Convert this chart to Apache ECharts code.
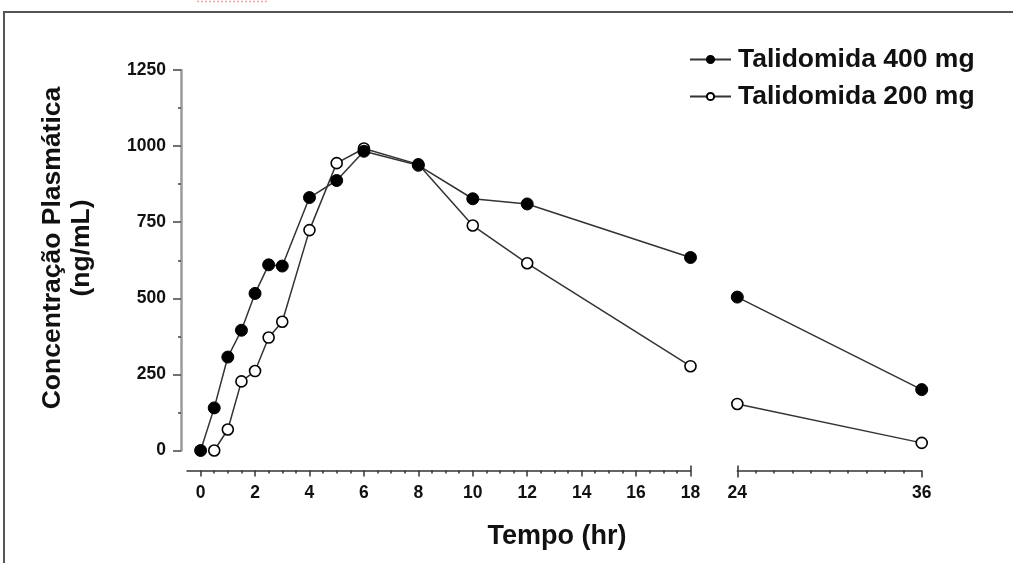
<!DOCTYPE html>
<html>
<head>
<meta charset="utf-8">
<script src="https://cdn.jsdelivr.net/npm/echarts@6/dist/echarts.min.js"></script>
<style>
  html, body { margin: 0; padding: 0; background: #fff; }
  #chart { width: 1013px; height: 563px; }
</style>
</head>
<body>
<div id="chart"></div>
<script>
// Sampling times (hr) and mean plasma concentrations (ng/mL)
var times = [0, 0.5, 1, 1.5, 2, 2.5, 3, 4, 5, 6, 8, 10, 12, 18, 24, 36];
var dose400 = [0, 140, 307, 395, 516, 610, 606, 831, 887, 983, 937, 827, 810, 634, 504, 200];
var dose200 = [null, 0, 69, 227, 261, 371, 423, 724, 944, 992, 940, 739, 615, 277, 153, 25];

var seriesNames = ['Talidomida 400 mg', 'Talidomida 200 mg'];

// Broken time axis: first panel 0–18 h, second panel 24–36 h
var majorTicksA = [0, 2, 4, 6, 8, 10, 12, 14, 16, 18];
var minorTicksA = [0.5, 1, 1.5, 2.5, 3, 3.5, 4.5, 5, 5.5, 6.5, 7, 7.5, 8.5, 9, 9.5,
                   10.5, 11, 11.5, 12.5, 13, 13.5, 14.5, 15, 15.5, 16.5, 17, 17.5];
var majorTicksB = [24, 36];
var minorTicksB = [25.2, 26.4, 27.6, 28.8, 30, 31.2, 32.4, 33.6, 34.8];

var yTicks = { min: 0, max: 1250, interval: 250 };

var FONT = '"Liberation Sans", Arial, Helvetica, sans-serif';
var INK = '#111';
var LINE = '#333';

function pairs(values, lo, hi) {
  var out = [];
  for (var i = 0; i < times.length; i++) {
    if (times[i] >= lo && times[i] <= hi && values[i] != null) out.push([times[i], values[i]]);
  }
  return out;
}

function tickAxis(grid, min, max, ticks, len, inside, withLine, labels) {
  return {
    type: 'value', gridIndex: grid, min: min, max: max, position: 'bottom', offset: 20,
    axisLine: { show: withLine, onZero: false, lineStyle: { color: LINE, width: 1.5 } },
    axisTick: { show: true, customValues: ticks, length: len, inside: inside,
                lineStyle: { color: LINE, width: 1.5 } },
    axisLabel: labels ? { show: true, customValues: labels, margin: 14, color: INK,
                          fontFamily: FONT, fontWeight: 'bold', fontSize: 17.5 }
                      : { show: false },
    splitLine: { show: false }
  };
}

var filledStyle = { color: '#000', borderColor: '#000', borderWidth: 1 };
var openStyle = { color: '#fff', borderColor: '#000', borderWidth: 1.6 };
var lineStyle = { color: LINE, width: 1.5 };

function lineSeries(name, values, xi, yi, lo, hi, style, size, z) {
  return {
    name: name, type: 'line', xAxisIndex: xi, yAxisIndex: yi,
    data: pairs(values, lo, hi), symbol: 'circle', symbolSize: size,
    itemStyle: style, lineStyle: lineStyle, z: z, animation: false
  };
}

var option = {
  animation: false,
  backgroundColor: '#fff',
  grid: [
    { left: 187, top: 70, width: 503.5, height: 380.5 },
    { left: 737.3, top: 70, width: 184.4, height: 380.5 }
  ],
  legend: {
    data: seriesNames, orient: 'vertical', left: 689, top: 46, padding: 0,
    itemWidth: 41, itemHeight: 9, itemGap: 10,
    textStyle: { color: INK, fontFamily: FONT, fontWeight: 'bold', fontSize: 26.5, lineHeight: 26, padding: [0, 0, 0, 2] }
  },
  xAxis: [
    tickAxis(0, -0.5, 18, majorTicksA, 6, false, true, majorTicksA),
    tickAxis(0, -0.5, 18, minorTicksA, 3, false, false, null),
    tickAxis(0, -0.5, 18, [18], 5, true, false, null),
    tickAxis(1, 24, 36, majorTicksB, 7, false, true, majorTicksB),
    tickAxis(1, 24, 36, minorTicksB, 3, false, false, null),
    tickAxis(1, 24, 36, [24], 5, true, false, null)
  ],
  yAxis: [
    {
      type: 'value', gridIndex: 0, min: yTicks.min, max: yTicks.max, interval: yTicks.interval, offset: 6,
      axisLine: { show: true, onZero: false, lineStyle: { color: '#9a9a9a', width: 2.5 } },
      axisTick: { show: true, length: 8, lineStyle: { color: '#444', width: 1.5 } },
      minorTick: { show: true, splitNumber: 2, length: 3, lineStyle: { color: '#444', width: 1.5 } },
      axisLabel: { margin: 15, color: INK, fontFamily: FONT, fontWeight: 'bold', fontSize: 17.5,
                   formatter: function (v) { return String(v); } },
      splitLine: { show: false }
    },
    { type: 'value', gridIndex: 1, min: yTicks.min, max: yTicks.max, show: false }
  ],
  graphic: [
    // outer frame
    { type: 'rect', shape: { x: 4, y: 12, width: 1030, height: 600 }, silent: true,
      style: { fill: 'none', stroke: '#555', lineWidth: 2 } },
    // dotted mark along the top edge
    { type: 'line', shape: { x1: 197, y1: 1.5, x2: 267, y2: 1.5 }, silent: true,
      style: { stroke: '#f2a3a3', lineWidth: 1.5, lineDash: [2, 2] } },
    // y-axis title
    { type: 'text', x: 67, y: 248, rotation: Math.PI / 2, silent: true,
      style: { text: 'Concentração Plasmática\n(ng/mL)', fill: INK, align: 'center', verticalAlign: 'middle',
               font: 'bold 26.5px ' + FONT, lineHeight: 29 } },
    // x-axis title
    { type: 'text', x: 557, y: 537, silent: true,
      style: { text: 'Tempo (hr)', fill: INK, align: 'center', verticalAlign: 'middle',
               font: 'bold 27px ' + FONT } }
  ],
  series: [
    lineSeries(seriesNames[1], dose200, 0, 0, 0, 18, openStyle, 11, 2),
    lineSeries(seriesNames[1], dose200, 3, 1, 24, 36, openStyle, 11, 2),
    lineSeries(seriesNames[0], dose400, 0, 0, 0, 18, filledStyle, 12, 3),
    lineSeries(seriesNames[0], dose400, 3, 1, 24, 36, filledStyle, 12, 3)
  ]
};

var chart = echarts.init(document.getElementById('chart'), null, { renderer: 'canvas' });
chart.setOption(option);
</script>
</body>
</html>
